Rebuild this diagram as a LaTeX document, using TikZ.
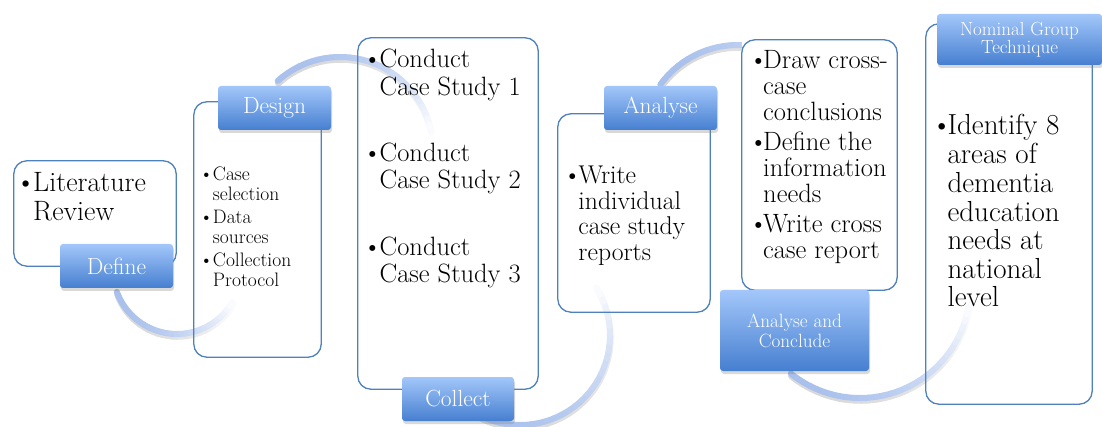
\documentclass[tikz,border=0pt]{standalone}
\usepackage{fontspec}
\usepackage{tikz}
\usetikzlibrary{shadows}
\definecolor{boxblue}{RGB}{79,129,189}
\definecolor{tabtop}{RGB}{163,199,250}
\definecolor{tabbot}{RGB}{70,127,208}
\definecolor{arcblue}{RGB}{168,192,236}
\newcommand{\fsz}[2]{\fontsize{#1}{#2}\selectfont}
\newcommand{\bl}[1][0.43em]{\makebox[#1][l]{\hspace{-0.2em}\textbullet}}
\newcommand{\flowarc}[5]{%
    \foreach \k in {0,...,29}{
        \pgfmathsetmacro{\angA}{#4+(#5-#4)*\k/30}
        \pgfmathsetmacro{\angB}{#4+(#5-#4)*(\k+1)/30}
        \pgfmathtruncatemacro{\spc}{16*(1-(\k/30)^2)}
        \draw[arcshadow, draw=black!\spc!white] ([shift={(\angA:#3)}]#1+0.5,#2+2.5) arc[start angle=\angA, end angle=\angB, radius=#3];
        }
    \foreach \k in {0,...,29}{
        \pgfmathsetmacro{\angA}{#4+(#5-#4)*\k/30}
        \pgfmathsetmacro{\angB}{#4+(#5-#4)*(\k+1)/30}
        \pgfmathtruncatemacro{\pc}{100*(1-(\k/30)^2)}
        \draw[arcline, draw=arcblue!\pc!white] ([shift={(\angA:#3)}]#1,#2) arc[start angle=\angA, end angle=\angB, radius=#3];
        }}
\tikzset{
    stagebox/.style={fill=white, inner sep=0pt},
    boxline/.style={draw=boxblue, line width=1.3pt, rounded corners=13pt},
    stagetab/.style={rounded corners=3pt, top color=tabtop, bottom color=tabbot, text=white,
        align=center, inner sep=0pt, drop shadow={opacity=0.3, shadow xshift=1pt, shadow yshift=-3pt}},
    itemtext/.style={anchor=base west, inner sep=0pt, align=left},
    arcline/.style={line width=6pt, line cap=round},
    arcshadow/.style={line width=6.5pt, line cap=round}
}

\begin{document}
\begin{tikzpicture}[x=1pt, y=-1pt]
    \useasboundingbox (0,0) rectangle (1102,427);

    \flowarc{738}{141}{96}{216}{330}

    \node[stagebox, minimum width=162, minimum height=105] (lit) at (  95, 213.5) {};
    \node[stagebox, minimum width=127, minimum height=255] (des) at (257.5, 229.5) {};
    \node[stagebox, minimum width=180, minimum height=351] (col) at ( 448, 213.5) {};
    \node[stagebox, minimum width=152, minimum height=198] (ana) at ( 634, 213)   {};
    \node[stagebox, minimum width=155, minimum height=250] (con) at (819.5, 165)  {};
    \node[stagebox, minimum width=166, minimum height=380] (ngt) at (1009, 214)   {};

    \flowarc{177}{270}{64}{160}{30}
    \flowarc{340}{150}{93}{228}{348}
    \flowarc{520}{335}{90}{125}{-32}
    \flowarc{860}{288}{110}{129}{10}

    \foreach \b in {lit, des, col, ana, con, ngt}{
        \draw[boxline] (\b.south west) rectangle (\b.north east);
        };

    \node[itemtext] (lit-txt) at (21, 192) {\fsz{28}{29}%
        \begin{tabular}[t]{@{}l@{}l@{}}\bl & Literature\\ & Review\end{tabular}};
    \node[itemtext] (des-txt) at (203, 181) {\fsz{19.5}{19.5}%
        \begin{tabular}[t]{@{}l@{\hspace{1pt}}l@{}}\bl[0.45em] & Case\\ & selection\\[4pt]
        \bl[0.45em] & Data\\ & sources\\[4pt]
        \bl[0.45em] & Collection\\ & Protocol\end{tabular}};
    \node[itemtext] (col-txt) at (368, 68) {\fsz{26.5}{27.3}%
        \begin{tabular}[t]{@{}l@{}l@{}}\bl & Conduct\\ & Case Study 1\\[39pt]
        \bl & Conduct\\ & Case Study 2\\[39pt]
        \bl & Conduct\\ & Case Study 3\end{tabular}};
    \node[itemtext] (ana-txt) at (568, 184) {\fsz{25.7}{25.5}%
        \begin{tabular}[t]{@{}l@{}l@{}}\bl[0.4em] & Write\\ & individual\\ & case study\\ & reports\end{tabular}};
    \node[itemtext] (con-txt) at (754, 69) {\fsz{26.5}{25.7}%
        \begin{tabular}[t]{@{}l@{}l@{}}\bl[0.34em] & Draw cross-\\ & case\\ & conclusions\\[3pt]
        \bl[0.34em] & Define the\\ & information\\ & needs\\[4pt]
        \bl[0.34em] & Write cross\\ & case report\end{tabular}};
    \node[itemtext] (ngt-txt) at (937, 135) {\fsz{29}{28.3}%
        \begin{tabular}[t]{@{}l@{}l@{}}\bl[0.36em] & Identify 8\\ & areas of\\ & dementia\\ & education\\
        & needs at\\ & national\\ & level\end{tabular}};

    \node[stagetab, minimum width=113, minimum height=44, font=\fsz{23.4}{24}] (define)  at (116.5, 266)   {Define};
    \node[stagetab, minimum width=113, minimum height=44, font=\fsz{23.4}{24}] (design)  at (274.5, 108)   {Design};
    \node[stagetab, minimum width=112, minimum height=44, font=\fsz{23.4}{24}] (collect) at (458, 399)     {Collect};
    \node[stagetab, minimum width=113, minimum height=44, font=\fsz{23.4}{24}] (analyse) at (660.5, 108)   {Analyse};
    \node[stagetab, minimum width=149, minimum height=81, font=\fsz{19.2}{20}] (conclude) at (794.5, 330.5) {Analyse and\\Conclude};
    \node[stagetab, minimum width=165, minimum height=51, font=\fsz{19}{18.5}] (nominal) at (1019.5, 39.5) {Nominal Group\\Technique};
\end{tikzpicture}
\end{document}
